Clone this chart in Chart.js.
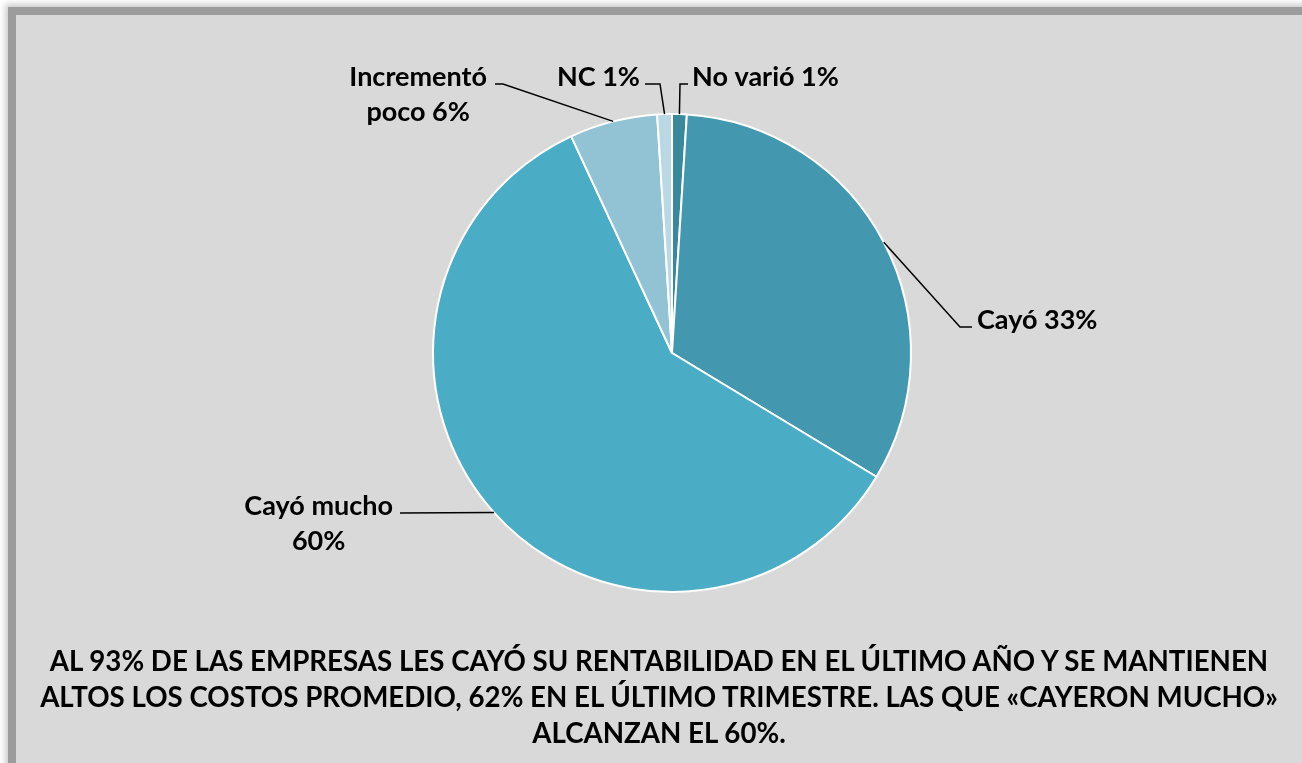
<!DOCTYPE html>
<html lang="es">
<head>
<meta charset="utf-8">
<title>Rentabilidad</title>
<script src="https://cdn.jsdelivr.net/npm/chart.js@4/dist/chart.umd.min.js"></script>
<style>
  html, body { margin: 0; padding: 0; background: #fff; overflow: hidden; }
  body { width: 1302px; height: 763px; position: relative; font-family: Lato, "Open Sans", sans-serif; }
  .panel {
    position: absolute; left: 16px; top: 15px; width: 1320px; height: 780px;
    background: #d9d9d9;
    box-shadow: 0 0 0 8px #9c9c9c, 0 0 6px 11px rgba(0,0,0,0.2);
  }
  .chart-box { position: absolute; left: 0; top: 0; width: 1302px; height: 763px; }
  .caption {
    position: absolute; left: 16px; width: 1286px; top: 643px;
    text-align: center; font-weight: 700; font-size: 27.7px; line-height: 36px; color: #000;
  }
</style>
</head>
<body>
<div class="panel"></div>
<div class="chart-box"><canvas id="pie" width="1302" height="763"></canvas></div>
<div class="caption">
  AL 93% DE LAS EMPRESAS LES CAYÓ SU RENTABILIDAD EN EL ÚLTIMO AÑO Y SE MANTIENEN<br>
  ALTOS LOS COSTOS PROMEDIO, 62% EN EL ÚLTIMO TRIMESTRE. LAS QUE «CAYERON MUCHO»<br>
  ALCANZAN EL 60%.
</div>
<script>
// data, clockwise from the top
const categories = ['No varió', 'Cayó', 'Cayó mucho', 'Incrementó poco', 'NC'];
const values     = [1, 33, 60, 6, 1];
const colors     = ['#3a889c', '#4398b0', '#4bacc6', '#92c3d5', '#b9d8e4'];

// where each label sits, relative to the pie centre (elbow of leader line, stub end, text anchor)
const labelLayout = [
  { ex:    8, ey: -269, endX:   16, tx:   20, align: 'left',  wrap: 0 },
  { ex:  288, ey:  -26, endX:  300, tx:  305, align: 'left',  wrap: 0 },
  { ex: -272, ey:  160, endX: -272, tx: -279, align: 'right', wrap: 2 },
  { ex: -169, ey: -269, endX: -177, tx: -185, align: 'right', wrap: 1 },
  { ex:  -12, ey: -269, endX:  -27, tx:  -32, align: 'right', wrap: 0 }
];

const leaderLabels = {
  id: 'leaderLabels',
  afterDraw(chart) {
    const ctx = chart.ctx;
    const arcs = chart.getDatasetMeta(0).data;
    ctx.save();
    ctx.font = 'bold 27px Lato, "Open Sans", sans-serif';
    ctx.fillStyle = '#000';
    ctx.strokeStyle = '#000';
    ctx.lineWidth = 1.5;
    ctx.textBaseline = 'middle';
    arcs.forEach((arc, i) => {
      const L = labelLayout[i];
      const cx = arc.x, cy = arc.y;
      const mid = (arc.startAngle + arc.endAngle) / 2;
      const r = arc.outerRadius;
      const tipX = cx + Math.cos(mid) * r, tipY = cy + Math.sin(mid) * r;
      ctx.beginPath();
      ctx.moveTo(tipX, tipY);
      ctx.lineTo(cx + L.ex, cy + L.ey);
      ctx.lineTo(cx + L.endX, cy + L.ey);
      ctx.stroke();

      const words = (categories[i] + ' ' + values[i] + '%').split(' ');
      const lines = L.wrap ? [words.slice(0, L.wrap).join(' '), words.slice(L.wrap).join(' ')] : [words.join(' ')];
      const widths = lines.map(t => ctx.measureText(t).width);
      const maxW = Math.max(...widths);
      const anchor = cx + L.tx;
      const centre = L.align === 'left' ? anchor + maxW / 2 : anchor - maxW / 2;
      ctx.textAlign = 'center';
      lines.forEach((t, k) => {
        ctx.fillText(t, centre, cy + L.ey - 7 + k * 35);
      });
    });
    ctx.restore();
  }
};

new Chart(document.getElementById('pie'), {
  type: 'pie',
  data: {
    labels: categories,
    datasets: [{
      data: values,
      backgroundColor: colors,
      borderColor: '#ffffff',
      borderWidth: 2
    }]
  },
  options: {
    responsive: false,
    animation: false,
    layout: { padding: { left: 432, right: 390, top: 113, bottom: 170 } },
    plugins: { legend: { display: false }, tooltip: { enabled: false } }
  },
  plugins: [leaderLabels]
});
</script>
</body>
</html>
